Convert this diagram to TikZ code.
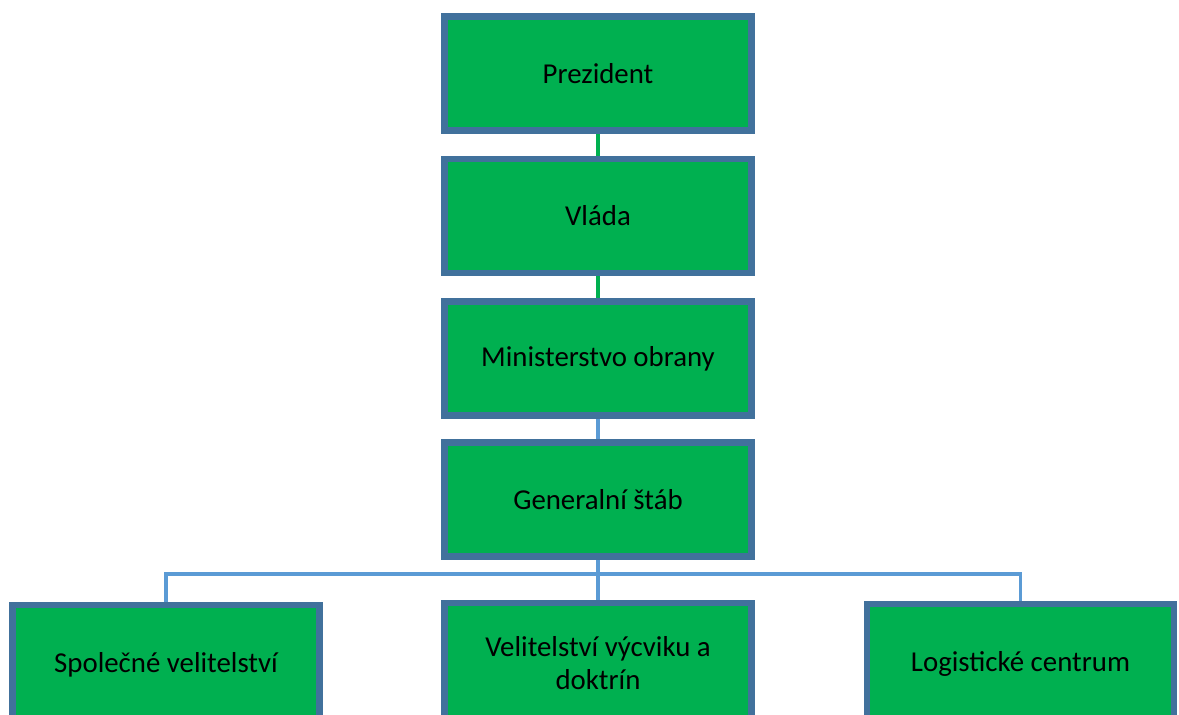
\documentclass[tikz,border=0pt]{standalone}
\usepackage{fontspec}
\setmainfont{Carlito}
\usepackage{tikz}
\usetikzlibrary{backgrounds}
\usetikzlibrary{calc}

\definecolor{boxgreen}{HTML}{00B050}
\definecolor{boxedge}{HTML}{41719C}
\definecolor{linkblue}{HTML}{5B9BD5}

\tikzset{
	unit/.style={draw=boxedge, fill=boxgreen, line width=4.9pt, minimum width=7.675cm, minimum height=2.85cm, align=center, font=\fontsize{20.5}{24}\selectfont, inner sep=0pt},
	greenlink/.style={draw=boxgreen, line width=2.6pt},
	bluelink/.style={draw=linkblue, line width=2.6pt}
}

\begin{document}
\begin{tikzpicture}[x=0.025cm, y=-0.025cm]
\useasboundingbox (0,0) rectangle (1179,715);
\node[unit] (prez) at (598,73.5) {Prezident};
\node[unit] (vlada) at (598,216) {Vláda};
\node[unit] (mo) at (598,358.5) {Ministerstvo obrany};
\node[unit] (gs) at (598,499.5) {Generalní štáb};
\node[unit, minimum height=3cm] (spol) at (166,665) {Společné velitelství};
\node[unit, minimum height=3cm] (vycvik) at (598,663) {Velitelství výcviku a\\doktrín};
\node[unit, minimum height=3cm] (log) at (1020.5,664) {Logistické centrum};
\coordinate (bus) at (598,574);
\begin{scope}[on background layer]
\path[greenlink]
(prez) -- (vlada)
(vlada) -- (mo)
;
\path[bluelink]
(mo) -- (gs)
(gs) -- (bus)
(bus) -| (spol)
(bus) -| (log)
(bus) -- (vycvik)
;
\end{scope}
\end{tikzpicture}
\end{document}
